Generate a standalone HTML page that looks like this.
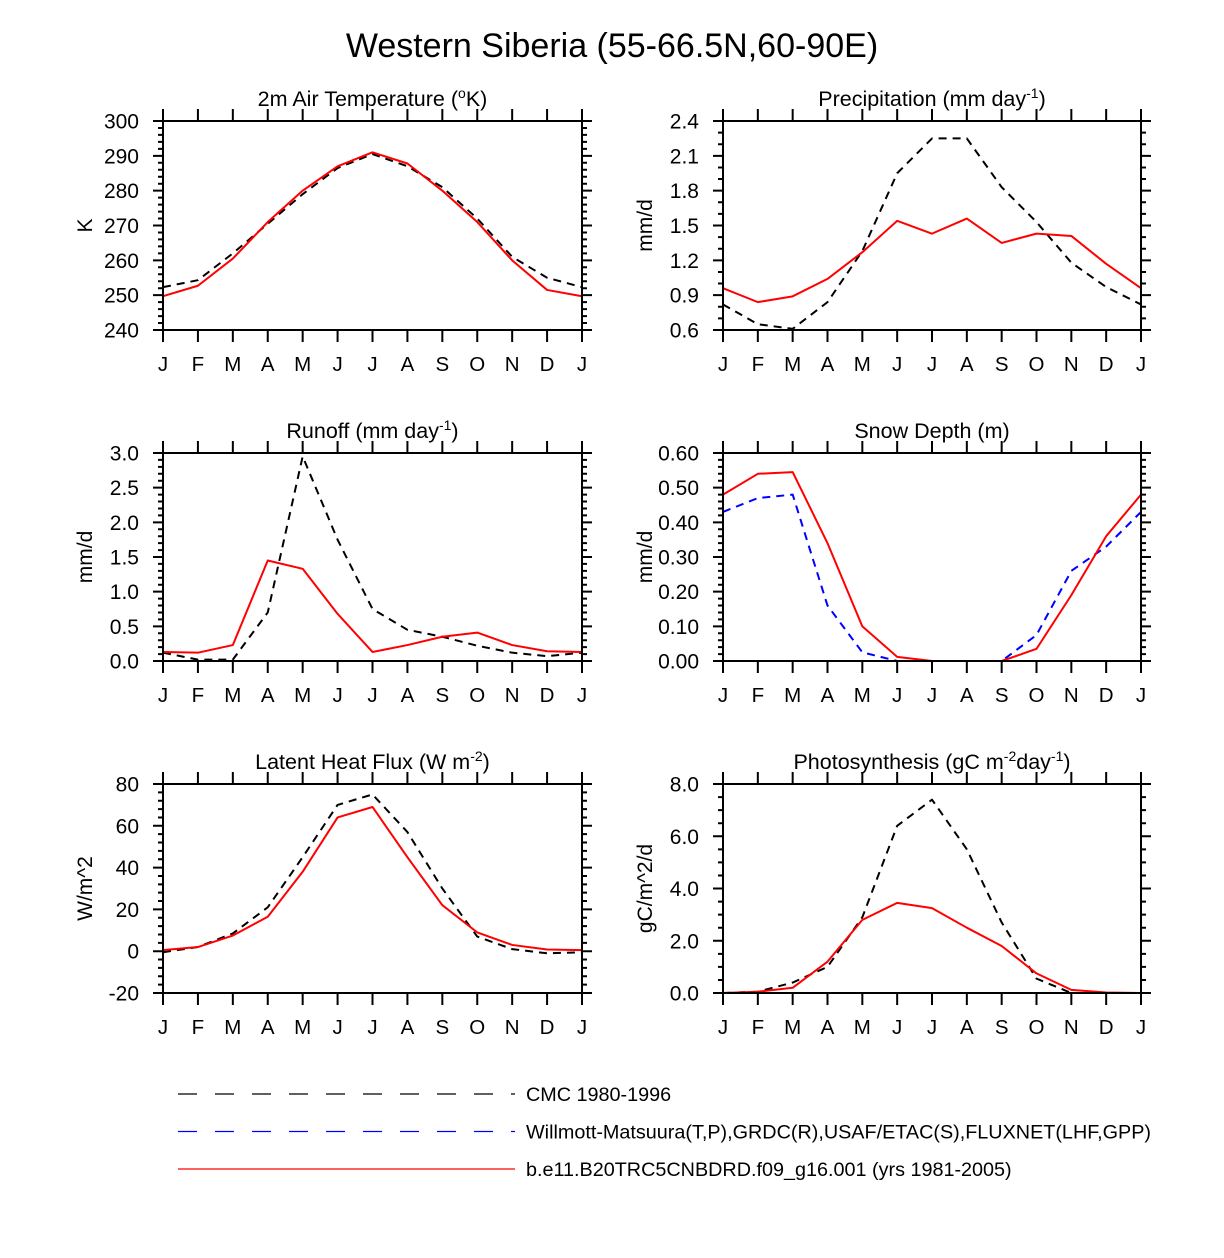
<!DOCTYPE html>
<html><head><meta charset="utf-8"><style>
html,body{margin:0;padding:0;background:#fff;}
svg{display:block;font-family:"Liberation Sans",Arial,sans-serif;}
</style></head><body>
<svg id="c" width="1224" height="1258" viewBox="0 0 1224 1258">
<text x="612" y="57" text-anchor="middle" font-size="34">Western Siberia (55-66.5N,60-90E)</text>
</svg>
<script>
const months = ["J","F","M","A","M","J","J","A","S","O","N","D","J"];
const tempCMC = [252.3,254.3,262,270.5,279,286.5,290.5,287,281,272,261,255,252.3];
const tempModel = [249.7,252.7,260.5,271,280,287,291,287.8,280,271,260,251.5,249.7];
const precCMC = [0.82,0.65,0.61,0.84,1.28,1.95,2.25,2.25,1.83,1.53,1.18,0.97,0.82];
const precModel = [0.96,0.84,0.89,1.04,1.27,1.54,1.43,1.56,1.35,1.43,1.41,1.17,0.96];
const runCMC = [0.12,0.02,0.02,0.7,2.95,1.75,0.75,0.45,0.35,0.22,0.12,0.07,0.12];
const runModel = [0.13,0.12,0.23,1.45,1.33,0.68,0.13,0.23,0.35,0.41,0.23,0.14,0.13];
const snowCMC = [0,0,0,0,0,0,0,0,0,0,0,0,0];
const snowObs = [0.43,0.47,0.48,0.16,0.025,0,0,0,0,0.075,0.26,0.33,0.43];
const snowModel = [0.48,0.54,0.545,0.34,0.10,0.012,0,0,0,0.035,0.19,0.36,0.48];
const lhfCMC = [-0.5,2,8.5,21,45,70,75,57,30,7,1,-1,-0.5];
const lhfModel = [0.5,2,7.5,16.5,38,64,69,45,22,9,3,0.8,0.5];
const gppCMC = [0,0.05,0.4,1.0,2.9,6.4,7.4,5.5,2.7,0.55,0.0,0.0,0.0];
const gppModel = [0,0.05,0.2,1.2,2.8,3.45,3.25,2.5,1.8,0.75,0.12,0.02,0];
const tempTicks = ["240","250","260","270","280","290","300"];
const precTicks = ["0.6","0.9","1.2","1.5","1.8","2.1","2.4"];
const runTicks = ["0.0","0.5","1.0","1.5","2.0","2.5","3.0"];
const snowTicks = ["0.00","0.10","0.20","0.30","0.40","0.50","0.60"];
const lhfTicks = ["-20","0","20","40","60","80"];
const gppTicks = ["0.0","2.0","4.0","6.0","8.0"];

const NS="http://www.w3.org/2000/svg";
const svg=document.getElementById('c');
function mk(tag,attrs,parent){const e=document.createElementNS(NS,tag);for(const k in attrs)e.setAttribute(k,attrs[k]);(parent||svg).appendChild(e);return e;}

const sup=s=>`<tspan baseline-shift="super" font-size="14">${s}</tspan>`;
const panels=[
 {key:"temp",x0:163,x1:582,y0:121,y1:330,ticks:tempTicks,minor:5,ylab:"K",title:'2m Air Temperature ('+sup('o')+'K)',series:[[tempCMC,"#000",true],[tempModel,"#f00",false]]},
 {key:"precip",x0:723,x1:1141,y0:121,y1:330,ticks:precTicks,minor:3,ylab:"mm/d",title:'Precipitation (mm day'+sup('-1')+')',series:[[precCMC,"#000",true],[precModel,"#f00",false]]},
 {key:"runoff",x0:163,x1:582,y0:453,y1:661,ticks:runTicks,minor:5,ylab:"mm/d",title:'Runoff (mm day'+sup('-1')+')',series:[[runCMC,"#000",true],[runModel,"#f00",false]]},
 {key:"snow",x0:723,x1:1141,y0:453,y1:661,ticks:snowTicks,minor:5,ylab:"mm/d",title:'Snow Depth (m)',series:[[snowCMC,"#000",true],[snowObs,"#00f",true],[snowModel,"#f00",false]]},
 {key:"lhf",x0:163,x1:582,y0:784,y1:993,ticks:lhfTicks,minor:5,ylab:"W/m^2",title:'Latent Heat Flux (W m'+sup('-2')+')',series:[[lhfCMC,"#000",true],[lhfModel,"#f00",false]]},
 {key:"gpp",x0:723,x1:1141,y0:784,y1:993,ticks:gppTicks,minor:4,ylab:"gC/m^2/d",title:'Photosynthesis (gC m'+sup('-2')+'day'+sup('-1')+')',series:[[gppCMC,"#000",true],[gppModel,"#f00",false]]}
];

panels.forEach(p=>{
  const g=mk('g',{});
  
  
  const vmin=parseFloat(p.ticks[0]), vmax=parseFloat(p.ticks[p.ticks.length-1]);
  const X=i=>p.x0+(p.x1-p.x0)*i/(months.length-1);
  const Y=v=>p.y1-(v-vmin)/(vmax-vmin)*(p.y1-p.y0);
  const t=mk('text',{x:(p.x0+p.x1)/2,y:p.y0-15,'text-anchor':'middle','font-size':21.5},g);
  t.innerHTML=p.title;
  
  
  const yl=mk('text',{x:0,y:0,'text-anchor':'middle','font-size':21,transform:`translate(${p.x0-71},${(p.y0+p.y1)/2}) rotate(-90)`},g);
  yl.textContent=p.ylab;
  
  
  let d='';
  const nT=p.ticks.length;
  for(let k=0;k<nT;k++){
    const y=Y(parseFloat(p.ticks[k]));
    d+=`M${p.x0-10},${y}H${p.x0}M${p.x1},${y}H${p.x1+10}`;
    const tl=mk('text',{x:p.x0-24,y:y+7.5,'text-anchor':'end','font-size':21},g);
    tl.textContent=p.ticks[k];
    
    
    if(k<nT-1){
      const y2=Y(parseFloat(p.ticks[k+1]));
      for(let m=1;m<p.minor;m++){const ym=y+(y2-y)*m/p.minor;d+=`M${p.x0-5},${ym}H${p.x0}M${p.x1},${ym}H${p.x1+5}`;}
    }
  }
  months.forEach((mo,i)=>{
    const x=X(i);
    d+=`M${x},${p.y0-12}V${p.y0}M${x},${p.y1}V${p.y1+12}`;
    const ml=mk('text',{x:x,y:p.y1+41,'text-anchor':'middle','font-size':20.5},g);
    ml.textContent=mo;
    
    
  });
  const tk=mk('path',{d:d,stroke:'#000','stroke-width':2,fill:'none'},g);
  
  
  p.series.forEach(s=>{
    const pts=s[0].map((v,i)=>X(i)+','+Y(v)).join(' ');
    const l=mk('polyline',{points:pts,fill:'none',stroke:s[1],'stroke-width':2,'stroke-linejoin':'round'},g);
    if(s[2])l.setAttribute('stroke-dasharray','8 6');
    
    
  });
  const fr=mk('rect',{x:p.x0,y:p.y0,width:p.x1-p.x0,height:p.y1-p.y0,fill:'none',stroke:'#000','stroke-width':2},g);
  
  
});

const legendLabels=["CMC 1980-1996","Willmott-Matsuura(T,P),GRDC(R),USAF/ETAC(S),FLUXNET(LHF,GPP)","b.e11.B20TRC5CNBDRD.f09_g16.001 (yrs 1981-2005)"];
const legendColors=["#000","#00f","#f00"];
const legendDash=["19 18","19 18",""];
legendLabels.forEach((lab,i)=>{
  const y=1094+i*37.5;
  const g=mk('g',{});
  
  
  const ln=mk('line',{x1:178,x2:515,y1:y,y2:y,stroke:legendColors[i],'stroke-width':1.2},g);
  if(legendDash[i])ln.setAttribute('stroke-dasharray',legendDash[i]);
  
  
  const tx=mk('text',{x:526,y:y+7,'font-size':19.8},g);
  tx.textContent=lab;
  
  
});
</script>
</body></html>
